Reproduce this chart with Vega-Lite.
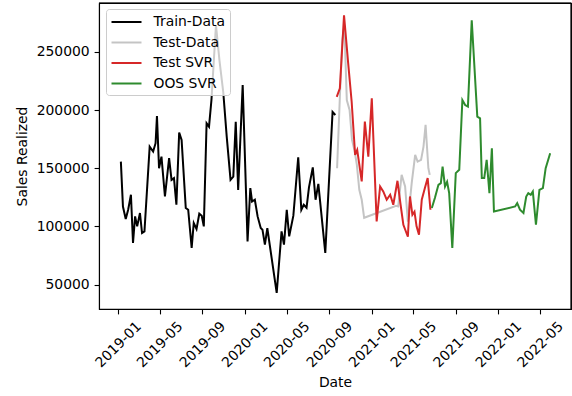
{
  "$schema": "https://vega.github.io/schema/vega-lite/v6.json",
  "autosize": "none",
  "padding": {"left": 99, "top": 3, "right": 1, "bottom": 87},
  "width": 472,
  "height": 306,
  "background": "white",
  "view": {"stroke": "black", "strokeWidth": 1.1},
  "config": {
    "font": "DejaVu Sans",
    "axis": {"grid": false, "labelFont": "DejaVu Sans", "titleFont": "DejaVu Sans", "labelFontSize": 13.9, "titleFontSize": 13.9, "titleFontWeight": "normal", "labelColor": "black", "titleColor": "black", "tickColor": "black", "tickWidth": 1.1, "tickSize": 4.9, "domainColor": "black", "domainWidth": 1.1}
  },
  "data": {"values": [
    {"series": "Train-Data", "date": "2019-01-09", "sales": 155700},
    {"series": "Train-Data", "date": "2019-01-15", "sales": 117100},
    {"series": "Train-Data", "date": "2019-01-23", "sales": 106300},
    {"series": "Train-Data", "date": "2019-01-30", "sales": 114300},
    {"series": "Train-Data", "date": "2019-02-07", "sales": 127200},
    {"series": "Train-Data", "date": "2019-02-13", "sales": 85700},
    {"series": "Train-Data", "date": "2019-02-19", "sales": 108600},
    {"series": "Train-Data", "date": "2019-02-25", "sales": 100000},
    {"series": "Train-Data", "date": "2019-03-05", "sales": 111500},
    {"series": "Train-Data", "date": "2019-03-11", "sales": 94300},
    {"series": "Train-Data", "date": "2019-03-18", "sales": 95700},
    {"series": "Train-Data", "date": "2019-04-02", "sales": 168600},
    {"series": "Train-Data", "date": "2019-04-12", "sales": 164300},
    {"series": "Train-Data", "date": "2019-04-19", "sales": 171500},
    {"series": "Train-Data", "date": "2019-04-23", "sales": 194900},
    {"series": "Train-Data", "date": "2019-04-29", "sales": 150000},
    {"series": "Train-Data", "date": "2019-05-06", "sales": 160000},
    {"series": "Train-Data", "date": "2019-05-16", "sales": 125700},
    {"series": "Train-Data", "date": "2019-05-28", "sales": 158600},
    {"series": "Train-Data", "date": "2019-06-04", "sales": 140000},
    {"series": "Train-Data", "date": "2019-06-11", "sales": 141500},
    {"series": "Train-Data", "date": "2019-06-18", "sales": 118600},
    {"series": "Train-Data", "date": "2019-06-26", "sales": 180600},
    {"series": "Train-Data", "date": "2019-07-03", "sales": 174300},
    {"series": "Train-Data", "date": "2019-07-15", "sales": 115800},
    {"series": "Train-Data", "date": "2019-07-22", "sales": 114300},
    {"series": "Train-Data", "date": "2019-08-01", "sales": 81500},
    {"series": "Train-Data", "date": "2019-08-07", "sales": 102900},
    {"series": "Train-Data", "date": "2019-08-15", "sales": 97800},
    {"series": "Train-Data", "date": "2019-08-23", "sales": 110900},
    {"series": "Train-Data", "date": "2019-08-30", "sales": 109200},
    {"series": "Train-Data", "date": "2019-09-05", "sales": 100000},
    {"series": "Train-Data", "date": "2019-09-13", "sales": 188600},
    {"series": "Train-Data", "date": "2019-09-20", "sales": 185700},
    {"series": "Train-Data", "date": "2019-09-27", "sales": 208600},
    {"series": "Train-Data", "date": "2019-10-10", "sales": 272900},
    {"series": "Train-Data", "date": "2019-10-20", "sales": 242900},
    {"series": "Train-Data", "date": "2019-10-31", "sales": 215500},
    {"series": "Train-Data", "date": "2019-11-10", "sales": 177100},
    {"series": "Train-Data", "date": "2019-11-21", "sales": 140000},
    {"series": "Train-Data", "date": "2019-11-29", "sales": 142800},
    {"series": "Train-Data", "date": "2019-12-06", "sales": 190000},
    {"series": "Train-Data", "date": "2019-12-13", "sales": 131400},
    {"series": "Train-Data", "date": "2019-12-26", "sales": 221500},
    {"series": "Train-Data", "date": "2020-01-09", "sales": 87100},
    {"series": "Train-Data", "date": "2020-01-17", "sales": 132900},
    {"series": "Train-Data", "date": "2020-01-22", "sales": 121400},
    {"series": "Train-Data", "date": "2020-01-30", "sales": 122900},
    {"series": "Train-Data", "date": "2020-02-07", "sales": 108600},
    {"series": "Train-Data", "date": "2020-02-16", "sales": 98600},
    {"series": "Train-Data", "date": "2020-02-21", "sales": 97200},
    {"series": "Train-Data", "date": "2020-02-28", "sales": 84300},
    {"series": "Train-Data", "date": "2020-03-06", "sales": 98400},
    {"series": "Train-Data", "date": "2020-04-02", "sales": 42900},
    {"series": "Train-Data", "date": "2020-04-16", "sales": 95700},
    {"series": "Train-Data", "date": "2020-04-23", "sales": 84300},
    {"series": "Train-Data", "date": "2020-05-01", "sales": 114300},
    {"series": "Train-Data", "date": "2020-05-08", "sales": 91400},
    {"series": "Train-Data", "date": "2020-05-20", "sales": 109200},
    {"series": "Train-Data", "date": "2020-06-03", "sales": 159300},
    {"series": "Train-Data", "date": "2020-06-12", "sales": 114300},
    {"series": "Train-Data", "date": "2020-06-19", "sales": 118600},
    {"series": "Train-Data", "date": "2020-06-27", "sales": 116000},
    {"series": "Train-Data", "date": "2020-07-04", "sales": 133600},
    {"series": "Train-Data", "date": "2020-07-15", "sales": 150700},
    {"series": "Train-Data", "date": "2020-07-23", "sales": 122900},
    {"series": "Train-Data", "date": "2020-07-31", "sales": 136600},
    {"series": "Train-Data", "date": "2020-08-20", "sales": 77200},
    {"series": "Train-Data", "date": "2020-09-10", "sales": 198300},
    {"series": "Train-Data", "date": "2020-09-18", "sales": 195700},
    {"series": "Test-Data", "date": "2020-09-23", "sales": 150000},
    {"series": "Test-Data", "date": "2020-10-01", "sales": 211200},
    {"series": "Test-Data", "date": "2020-10-08", "sales": 260000},
    {"series": "Test-Data", "date": "2020-10-14", "sales": 272900},
    {"series": "Test-Data", "date": "2020-10-21", "sales": 208600},
    {"series": "Test-Data", "date": "2020-10-29", "sales": 200000},
    {"series": "Test-Data", "date": "2020-11-05", "sales": 174300},
    {"series": "Test-Data", "date": "2020-11-12", "sales": 165700},
    {"series": "Test-Data", "date": "2020-11-19", "sales": 152900},
    {"series": "Test-Data", "date": "2020-11-26", "sales": 131400},
    {"series": "Test-Data", "date": "2020-12-03", "sales": 122900},
    {"series": "Test-Data", "date": "2020-12-10", "sales": 107400},
    {"series": "Test-Data", "date": "2021-03-12", "sales": 117700},
    {"series": "Test-Data", "date": "2021-03-18", "sales": 117100},
    {"series": "Test-Data", "date": "2021-03-28", "sales": 144300},
    {"series": "Test-Data", "date": "2021-04-07", "sales": 134300},
    {"series": "Test-Data", "date": "2021-04-15", "sales": 104000},
    {"series": "Test-Data", "date": "2021-04-26", "sales": 137200},
    {"series": "Test-Data", "date": "2021-05-06", "sales": 161400},
    {"series": "Test-Data", "date": "2021-05-13", "sales": 155700},
    {"series": "Test-Data", "date": "2021-05-23", "sales": 157200},
    {"series": "Test-Data", "date": "2021-05-30", "sales": 168600},
    {"series": "Test-Data", "date": "2021-06-05", "sales": 187200},
    {"series": "Test-Data", "date": "2021-06-13", "sales": 150000},
    {"series": "Test-Data", "date": "2021-06-17", "sales": 144300},
    {"series": "Test SVR", "date": "2020-09-22", "sales": 211400},
    {"series": "Test SVR", "date": "2020-10-01", "sales": 218600},
    {"series": "Test SVR", "date": "2020-10-13", "sales": 281500},
    {"series": "Test SVR", "date": "2020-10-25", "sales": 240100},
    {"series": "Test SVR", "date": "2020-11-04", "sales": 207100},
    {"series": "Test SVR", "date": "2020-11-14", "sales": 161400},
    {"series": "Test SVR", "date": "2020-11-20", "sales": 165700},
    {"series": "Test SVR", "date": "2020-12-03", "sales": 138600},
    {"series": "Test SVR", "date": "2020-12-12", "sales": 190000},
    {"series": "Test SVR", "date": "2020-12-22", "sales": 160000},
    {"series": "Test SVR", "date": "2021-01-01", "sales": 210100},
    {"series": "Test SVR", "date": "2021-01-15", "sales": 104300},
    {"series": "Test SVR", "date": "2021-01-25", "sales": 134300},
    {"series": "Test SVR", "date": "2021-02-03", "sales": 130000},
    {"series": "Test SVR", "date": "2021-02-13", "sales": 122900},
    {"series": "Test SVR", "date": "2021-02-23", "sales": 127200},
    {"series": "Test SVR", "date": "2021-03-04", "sales": 118600},
    {"series": "Test SVR", "date": "2021-03-16", "sales": 139200},
    {"series": "Test SVR", "date": "2021-03-25", "sales": 118600},
    {"series": "Test SVR", "date": "2021-04-02", "sales": 101400},
    {"series": "Test SVR", "date": "2021-04-15", "sales": 91100},
    {"series": "Test SVR", "date": "2021-04-21", "sales": 125700},
    {"series": "Test SVR", "date": "2021-04-28", "sales": 110000},
    {"series": "Test SVR", "date": "2021-05-04", "sales": 112600},
    {"series": "Test SVR", "date": "2021-05-10", "sales": 100000},
    {"series": "Test SVR", "date": "2021-05-17", "sales": 92900},
    {"series": "Test SVR", "date": "2021-05-25", "sales": 122900},
    {"series": "Test SVR", "date": "2021-06-03", "sales": 132900},
    {"series": "Test SVR", "date": "2021-06-11", "sales": 141500},
    {"series": "Test SVR", "date": "2021-06-19", "sales": 114300},
    {"series": "OOS SVR", "date": "2021-06-23", "sales": 115800},
    {"series": "OOS SVR", "date": "2021-07-02", "sales": 124600},
    {"series": "OOS SVR", "date": "2021-07-12", "sales": 135700},
    {"series": "OOS SVR", "date": "2021-07-19", "sales": 137200},
    {"series": "OOS SVR", "date": "2021-07-24", "sales": 151400},
    {"series": "OOS SVR", "date": "2021-07-31", "sales": 134300},
    {"series": "OOS SVR", "date": "2021-08-06", "sales": 138300},
    {"series": "OOS SVR", "date": "2021-08-12", "sales": 128600},
    {"series": "OOS SVR", "date": "2021-08-21", "sales": 81500},
    {"series": "OOS SVR", "date": "2021-08-31", "sales": 145800},
    {"series": "OOS SVR", "date": "2021-09-10", "sales": 148600},
    {"series": "OOS SVR", "date": "2021-09-19", "sales": 208600},
    {"series": "OOS SVR", "date": "2021-09-27", "sales": 204300},
    {"series": "OOS SVR", "date": "2021-10-05", "sales": 202900},
    {"series": "OOS SVR", "date": "2021-10-16", "sales": 277200},
    {"series": "OOS SVR", "date": "2021-11-01", "sales": 194300},
    {"series": "OOS SVR", "date": "2021-11-09", "sales": 192900},
    {"series": "OOS SVR", "date": "2021-11-14", "sales": 141500},
    {"series": "OOS SVR", "date": "2021-11-21", "sales": 141500},
    {"series": "OOS SVR", "date": "2021-11-28", "sales": 157200},
    {"series": "OOS SVR", "date": "2021-12-06", "sales": 128600},
    {"series": "OOS SVR", "date": "2021-12-13", "sales": 167200},
    {"series": "OOS SVR", "date": "2021-12-19", "sales": 112800},
    {"series": "OOS SVR", "date": "2022-02-18", "sales": 117100},
    {"series": "OOS SVR", "date": "2022-02-24", "sales": 120000},
    {"series": "OOS SVR", "date": "2022-03-04", "sales": 114300},
    {"series": "OOS SVR", "date": "2022-03-14", "sales": 111500},
    {"series": "OOS SVR", "date": "2022-03-22", "sales": 125700},
    {"series": "OOS SVR", "date": "2022-03-28", "sales": 128600},
    {"series": "OOS SVR", "date": "2022-04-04", "sales": 127200},
    {"series": "OOS SVR", "date": "2022-04-10", "sales": 130000},
    {"series": "OOS SVR", "date": "2022-04-19", "sales": 101400},
    {"series": "OOS SVR", "date": "2022-04-29", "sales": 131400},
    {"series": "OOS SVR", "date": "2022-05-09", "sales": 132900},
    {"series": "OOS SVR", "date": "2022-05-17", "sales": 150000},
    {"series": "OOS SVR", "date": "2022-05-30", "sales": 162900}
  ]},
  "layer": [
    {
      "encoding": {
        "x": {
          "field": "date", "type": "temporal",
          "scale": {"type": "utc", "domain": [{"year": 2018, "month": 11, "date": 7, "utc": true}, {"year": 2022, "month": 7, "date": 29, "utc": true}]},
          "axis": {
            "title": "Date",
            "labelExpr": "utcFormat(datum.value, '%Y-%m')",
            "values": [
              {"year": 2019, "month": 1, "date": 1, "utc": true},
              {"year": 2019, "month": 5, "date": 1, "utc": true},
              {"year": 2019, "month": 9, "date": 1, "utc": true},
              {"year": 2020, "month": 1, "date": 1, "utc": true},
              {"year": 2020, "month": 5, "date": 1, "utc": true},
              {"year": 2020, "month": 9, "date": 1, "utc": true},
              {"year": 2021, "month": 1, "date": 1, "utc": true},
              {"year": 2021, "month": 5, "date": 1, "utc": true},
              {"year": 2021, "month": 9, "date": 1, "utc": true},
              {"year": 2022, "month": 1, "date": 1, "utc": true},
              {"year": 2022, "month": 5, "date": 1, "utc": true}
            ],
            "labelAngle": -45, "labelAlign": "center", "labelBaseline": "middle", "labelPadding": 30.5,
            "labelOverlap": false, "labelFlush": false, "titlePadding": 6
          }
        },
        "y": {
          "field": "sales", "type": "quantitative",
          "scale": {"domain": [29000, 292000], "nice": false, "zero": false},
          "axis": {"title": "Sales Realized", "values": [50000, 100000, 150000, 200000, 250000], "format": "d", "labelPadding": 4.9, "titlePadding": 7}
        },
        "color": {
          "field": "series", "type": "nominal",
          "scale": {"domain": ["Train-Data", "Test-Data", "Test SVR", "OOS SVR"], "range": ["#000000", "#c4c4c4", "#d62728", "#2e8b2e"]},
          "legend": {
            "title": null, "orient": "none", "legendX": 7, "legendY": 6,
            "symbolType": "M-1,0H3", "symbolSize": 225, "symbolStrokeWidth": 2,
            "labelFont": "DejaVu Sans", "labelFontSize": 13.9, "labelColor": "black", "labelOffset": 26,
            "rowPadding": 4.5, "padding": 4.5,
            "strokeColor": "#cccccc", "fillColor": "rgba(255,255,255,0.8)", "cornerRadius": 3
          }
        }
      },
      "layer": [
        {"transform": [{"filter": "datum.series === 'Train-Data'"}], "mark": {"type": "line", "strokeWidth": 2}},
        {"transform": [{"filter": "datum.series === 'Test-Data'"}], "mark": {"type": "line", "strokeWidth": 2}},
        {"transform": [{"filter": "datum.series === 'Test SVR'"}], "mark": {"type": "line", "strokeWidth": 2}},
        {"transform": [{"filter": "datum.series === 'OOS SVR'"}], "mark": {"type": "line", "strokeWidth": 2}}
      ]
    },
    {
      "data": {"values": [{}]},
      "mark": {"type": "rule", "color": "black", "strokeWidth": 1.1},
      "encoding": {"y": {"datum": 292000, "type": "quantitative"}}
    },
    {
      "data": {"values": [{}]},
      "mark": {"type": "rule", "color": "black", "strokeWidth": 1.1},
      "encoding": {"x": {"datum": {"year": 2022, "month": 7, "date": 29, "utc": true}, "type": "temporal"}}
    }
  ]
}
